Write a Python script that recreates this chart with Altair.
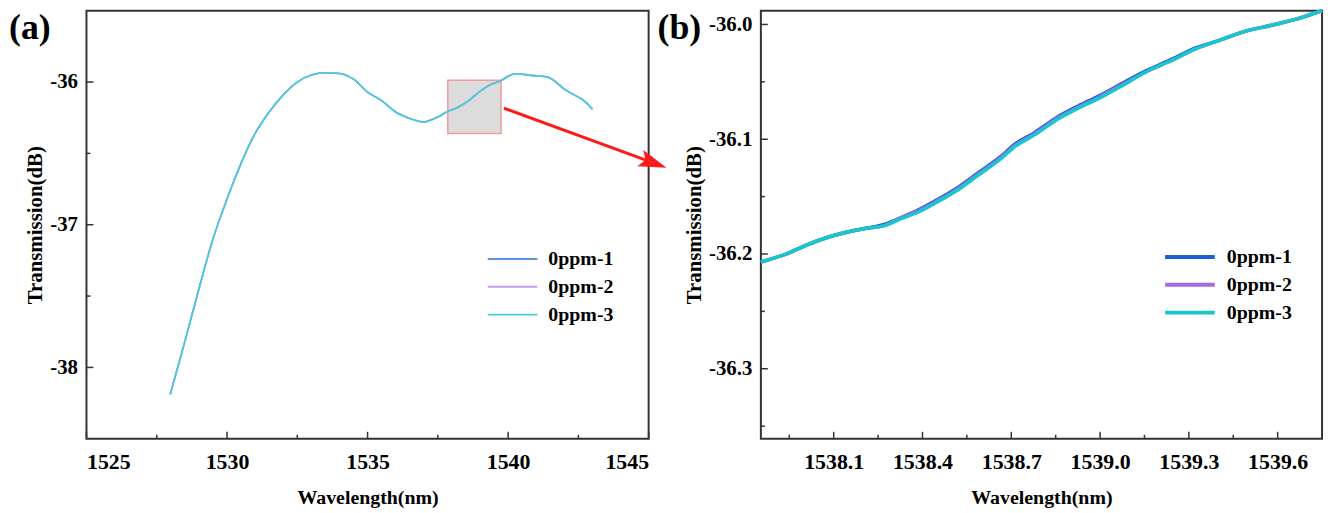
import altair as alt
import pandas as pd

series_names = ["0ppm-1", "0ppm-2", "0ppm-3"]
panel_labels = ["(a)", "(b)"]

# ---- panel (a): full spectrum ----
wl_a = [1527.98, 1528.47, 1529.0, 1529.5, 1530.0, 1530.5, 1531.0, 1531.5, 1532.0,
        1532.5, 1533.0, 1533.5, 1534.0, 1534.5, 1535.0, 1535.5, 1536.0, 1536.5,
        1537.0, 1537.2, 1537.5, 1537.85, 1538.2, 1538.6, 1539.0, 1539.4, 1539.75,
        1540.0, 1540.25, 1540.6, 1541.0, 1541.4, 1541.7, 1542.0, 1542.35, 1542.7, 1543.0]
t_a_3 = [-38.19, -37.84, -37.45, -37.10, -36.82, -36.57, -36.36, -36.21, -36.09,
         -36.00, -35.95, -35.935, -35.94, -35.98, -36.07, -36.13, -36.21, -36.255,
         -36.28, -36.27, -36.245, -36.207, -36.178, -36.13, -36.065, -36.015, -35.99,
         -35.96, -35.942, -35.948, -35.957, -35.965, -36.0, -36.05, -36.09, -36.13, -36.19]
t_a_1 = list(t_a_3)
t_a_2 = list(t_a_3)

# ---- panel (b): zoomed region ----
wl_b = [1537.854, 1537.94, 1538.01, 1538.086, 1538.143, 1538.2, 1538.274, 1538.33, 1538.39,
        1538.448, 1538.52, 1538.59, 1538.665, 1538.709, 1538.78, 1538.854, 1538.926, 1538.999,
        1539.07, 1539.158, 1539.245, 1539.317, 1539.39, 1539.49, 1539.59, 1539.68, 1539.75]
t_b_3 = [-36.207, -36.200, -36.192, -36.185, -36.181, -36.178, -36.175, -36.169, -36.163,
         -36.155, -36.144, -36.131, -36.117, -36.107, -36.096, -36.083, -36.073, -36.064,
         -36.054, -36.041, -36.031, -36.022, -36.015, -36.006, -36.000, -35.994, -35.988]
t_b_1 = [-36.207, -36.200, -36.192, -36.185, -36.181, -36.178, -36.174, -36.168, -36.161,
         -36.153, -36.142, -36.129, -36.115, -36.105, -36.094, -36.081, -36.071, -36.062,
         -36.052, -36.040, -36.030, -36.021, -36.015, -36.006, -36.000, -35.994, -35.988]
t_b_2 = [-36.207, -36.200, -36.192, -36.185, -36.181, -36.178, -36.175, -36.168, -36.162,
         -36.154, -36.143, -36.130, -36.116, -36.106, -36.095, -36.082, -36.072, -36.063,
         -36.053, -36.041, -36.031, -36.022, -36.015, -36.006, -36.000, -35.994, -35.988]

# zoom box and arrow annotation (data coordinates of panel a)
box_wl = [1537.854, 1539.75]
box_t = [-35.988, -36.361]
arrow_wl = [1539.85, 1545.17]
arrow_t = [-36.183, -36.567]

# axis ticks
a_x_major = [1525, 1530, 1535, 1540, 1545]
a_x_minor = [1527.5, 1532.5, 1537.5, 1542.5]
a_y_major = [-36, -37, -38]
a_y_minor = [-36.5, -37.5]
b_x_major = [1538.1, 1538.4, 1538.7, 1539.0, 1539.3, 1539.6]
b_x_minor = [1537.95, 1538.25, 1538.55, 1538.85, 1539.15, 1539.45]
b_y_major = [-36.0, -36.1, -36.2, -36.3]
b_y_minor = [-36.05, -36.15, -36.25, -36.35]

colors_a = ["#5b8fe6", "#c59af0", "#46cdd9"]
colors_b = ["#1a5fd9", "#a56ce0", "#14c8cc"]

FONT = "Liberation Serif"
W_A, W_B, H = 566, 565, 431


def long_df(wl, series):
    rows = []
    for name, vals in zip(series_names, series):
        for w, t in zip(wl, vals):
            rows.append({"wl": w, "t": t, "series": name})
    return pd.DataFrame(rows)


def hyphen_expr(fmt):
    return ("datum.value < 0 ? '-' + format(-datum.value, '%s') : format(datum.value, '%s')"
            % (fmt, fmt))


def panel(df, xdom, ydom, xmaj, xmin, ymaj, ymin, fx, fy, colors, lw, lgx, lgy,
          lg_sw, label, label_x, width, extra=None):
    X = alt.X("wl:Q", scale=alt.Scale(domain=xdom, nice=False, zero=False),
              axis=alt.Axis(values=xmaj, labelExpr=hyphen_expr(fx), title="Wavelength(nm)",
                            labelFont=FONT, titleFont=FONT, labelFontWeight="bold",
                            titleFontWeight="bold", labelColor="black", titleColor="black",
                            labelFontSize=22, titleFontSize=20, labelPadding=13,
                            titlePadding=15, domain=False, ticks=False, grid=False))
    Y = alt.Y("t:Q", scale=alt.Scale(domain=ydom, nice=False, zero=False),
              axis=alt.Axis(values=ymaj, labelExpr=hyphen_expr(fy), title="Transmission(dB)",
                            labelFont=FONT, titleFont=FONT, labelFontWeight="bold",
                            titleFontWeight="bold", labelColor="black", titleColor="black",
                            labelFontSize=21, titleFontSize=21, labelPadding=9,
                            titlePadding=4, domain=False, ticks=False, grid=False))
    layers = []
    if extra is not None:
        layers += extra(X, Y)
    lines = alt.Chart(df).mark_line(strokeWidth=lw, interpolate="monotone").encode(
        x=X, y=Y,
        color=alt.Color("series:N", sort=series_names,
                        scale=alt.Scale(domain=series_names, range=colors),
                        legend=alt.Legend(orient="none", legendX=lgx, legendY=lgy,
                                          title=None, symbolType="stroke",
                                          symbolSize=2500, symbolStrokeWidth=lg_sw,
                                          clipHeight=20, rowPadding=8, padding=0,
                                          labelFont=FONT, labelFontSize=20,
                                          labelFontWeight="bold", labelColor="black",
                                          labelOffset=10)),
        order=alt.Order("series:N"),
    )
    layers.append(lines)
    tick_specs = [(xmaj, 7, "x"), (xmin, 4, "x"), (ymaj, 7, "y"), (ymin, 4, "y")]
    for vals, ln, ax in tick_specs:
        if ax == "x":
            d = pd.DataFrame({"wl": vals})
            layers.append(alt.Chart(d).mark_rule(color="#333", strokeWidth=1.5).encode(
                x=X, y=alt.value(H), y2=alt.value(H - ln)))
        else:
            d = pd.DataFrame({"t": vals})
            layers.append(alt.Chart(d).mark_rule(color="#333", strokeWidth=1.5).encode(
                y=Y, x=alt.value(0), x2=alt.value(ln)))
    lab = alt.Chart(pd.DataFrame({"label": [label]})).mark_text(
        font=FONT, fontSize=36, fontWeight="bold", align="left", baseline="top",
        color="black").encode(text="label:N", x=alt.value(label_x), y=alt.value(1))
    layers.append(lab)
    return alt.layer(*layers).properties(width=width, height=H)


def extra_a(X, Y):
    box = pd.DataFrame({"wl": [box_wl[0]], "wl2": [box_wl[1]],
                        "t": [box_t[0]], "t2": [box_t[1]]})
    rect = alt.Chart(box).mark_rect(fill="#dcdcdc", stroke="#f49a9a",
                                    strokeWidth=1.5).encode(
        x=X, x2="wl2:Q", y=Y, y2="t2:Q")
    arr = pd.DataFrame({"wl": [arrow_wl[0]], "wl2": [arrow_wl[1]],
                        "t": [arrow_t[0]], "t2": [arrow_t[1]]})
    rule = alt.Chart(arr).mark_rule(color="#ff1a1a", strokeWidth=3).encode(
        x=X, x2="wl2:Q", y=Y, y2="t2:Q")
    head = pd.DataFrame({"wl": [arrow_wl[1]], "t": [arrow_t[1]]})
    tri = alt.Chart(head).mark_point(
        shape="M-1,-0.62L1,0L-1,0.62L-0.6,0Z", filled=True, fill="#ff1a1a",
        opacity=1, size=784, angle=20, strokeWidth=0).encode(x=X, y=Y)
    return [rect, rule, tri]


df_a = long_df(wl_a, [t_a_1, t_a_2, t_a_3])
df_b = long_df(wl_b, [t_b_1, t_b_2, t_b_3])

pa = panel(df_a, [1525, 1545], [-38.5, -35.5], a_x_major, a_x_minor, a_y_major,
           a_y_minor, "d", "d", colors_a, 1.6, 403, 240, 2, panel_labels[0], -78,
           W_A, extra_a)
pb = panel(df_b, [1537.854, 1539.75], [-36.361, -35.988], b_x_major, b_x_minor,
           b_y_major, b_y_minor, ".1f", ".1f", colors_b, 3.5, 405, 238, 4,
           panel_labels[1], -104, W_B)

chart = alt.hconcat(pa, pb, spacing=113, bounds="flush").resolve_scale(
    color="independent", x="independent", y="independent"
).properties(
    padding={"left": 0, "top": -7, "right": 0, "bottom": 0},
    background="white"
).configure_view(
    stroke="#333", strokeWidth=2
).configure_axis(
    labelFont=FONT, titleFont=FONT, labelFontWeight="bold", titleFontWeight="bold",
    labelColor="black", titleColor="black", domain=False, ticks=False, grid=False
)

chart.save("out.html", embed_options={"renderer": "svg", "actions": False})
